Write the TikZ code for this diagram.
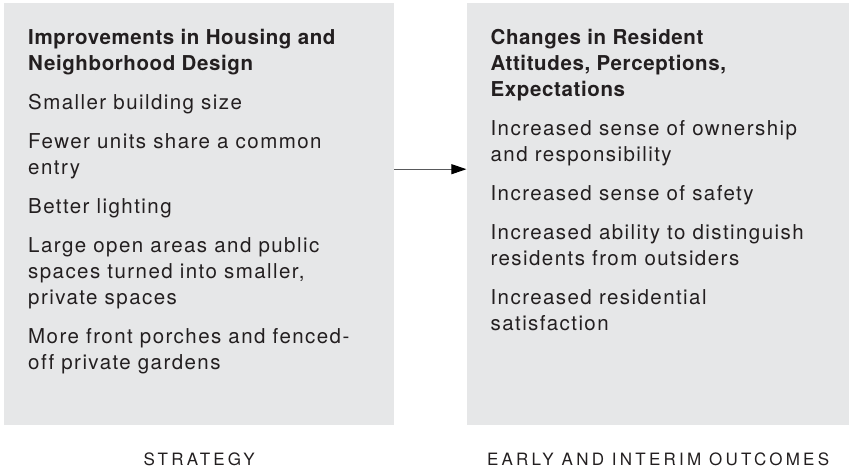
\documentclass[tikz,border=0pt]{standalone}
\usepackage{fontspec}
\setmainfont{TeX Gyre Heros}[LetterSpace=7,Ligatures=NoCommon]
\newfontfamily\headfont{TeX Gyre Heros}[LetterSpace=3]
\newfontfamily\capfont{TeX Gyre Heros}[LetterSpace=19]
\usetikzlibrary{positioning, arrows.meta}
\definecolor{panelgray}{RGB}{230,231,232}
\definecolor{inkgray}{RGB}{35,31,32}
\definecolor{linegray}{RGB}{88,89,91}
\newcommand{\hd}[1]{{\headfont\bfseries #1}}

\begin{document}
\begin{tikzpicture}[
        x=1pt, y=1pt,
        panel/.style = {fill=panelgray, draw=none, inner sep=0pt, minimum width=#1, minimum height=422pt},
        blurb/.style = {inner sep=0pt, align=left, text=inkgray, font=\fontsize{20.5}{26}\selectfont},
        caption/.style = {inner sep=0pt, text=inkgray, font=\capfont\fontsize{17}{20}\selectfont},
        arrow/.style = {-{Triangle[length=15pt, width=10pt, color=black]}, draw=linegray, line width=1pt}
        ]
    \useasboundingbox (0,0) rectangle (849,-468);

    % boxes
    \node[panel=390pt, anchor=north west] (strat) at (4,-3) {};
    \node[panel=383pt, right=72pt of strat] (outc) {};

    % box contents
    \node[blurb, below right=26pt and 24pt of strat.north west] (stratText) {%
        \hd{Improvements in Housing and}\\
        \hd{Neighborhood Design}\\[13pt]
        Smaller building size\\[13pt]
        Fewer units share a common\\
        entry\\[13pt]
        Better lighting\\[13pt]
        Large open areas and public\\
        spaces turned into smaller,\\
        private spaces\\[13pt]
        More front porches and fenced-\\
        off private gardens};
    \node[blurb, below right=26pt and 24pt of outc.north west] (outcText) {%
        \hd{Changes in Resident}\\
        \hd{Attitudes, Perceptions,}\\
        \hd{Expectations}\\[13pt]
        Increased sense of ownership\\
        and responsibility\\[13pt]
        Increased sense of safety\\[13pt]
        Increased ability to distinguish\\
        residents from outsiders\\[13pt]
        Increased residential\\
        satisfaction};

    % arrow
    \draw[arrow] ([yshift=45pt]strat.east) -- ([yshift=45pt]outc.west);

    % captions
    \node[caption, below=27pt of strat] (stratCap) {STRATEGY};
    \node[caption, below=27pt of outc] (outcCap) {EARLY AND INTERIM OUTCOMES};

\end{tikzpicture}
\end{document}
